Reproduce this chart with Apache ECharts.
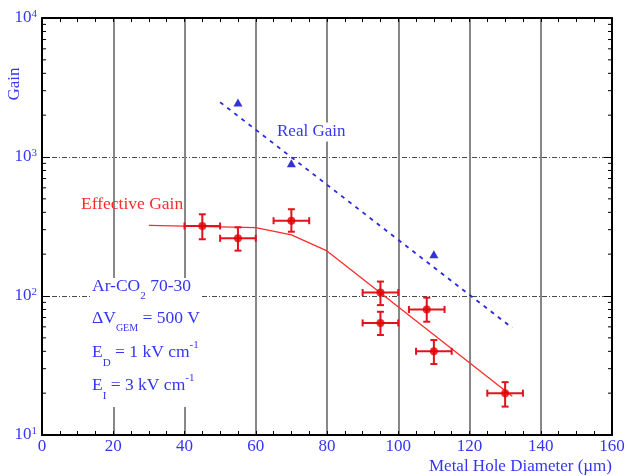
<!DOCTYPE html>
<html>
<head>
<meta charset="utf-8">
<script src="https://cdn.jsdelivr.net/npm/echarts@6/dist/echarts.min.js"></script>
<style>
html,body{margin:0;padding:0;background:#fff;}
#chart{width:628px;height:476px;}
</style>
</head>
<body>
<div id="chart"></div>
<script>
// ---- data ----
var xTicks = [0, 20, 40, 60, 80, 100, 120, 140, 160];
var yDecades = [10, 100, 1000, 10000];
var yMinorMult = [2, 3, 4, 5, 6, 7, 8, 9];

// Effective gain measurements (x: metal hole diameter, y: gain)
var effX     = [45, 55, 70, 95, 95, 108, 110, 130];
var effY     = [319, 260, 348, 106, 64, 80, 40, 20];
var effXLow  = [40, 50, 65, 90, 90, 103, 105, 125];
var effXHigh = [50, 60, 75, 100, 100, 113, 115, 135];
var effYLow  = [256, 212, 290, 86, 52.4, 65.3, 32.4, 16];
var effYHigh = [387, 312, 421, 127, 77, 97.3, 48.2, 24];

// Effective gain model curve
var effFitX = [30, 60, 70, 80, 132];
var effFitY = [322, 310, 275, 211, 19];

// Real gain points and fit
var realX = [55, 70, 110];
var realY = [2470, 902, 200];
var realFitX = [50, 132];
var realFitY = [2480, 59];

// ---- build ----
var BLUE = '#3535f5';
var FONT = 'Liberation Serif, Times New Roman, serif';

var yMinor = [];
for (var i = 0; i < yDecades.length - 1; i++) {
  for (var j = 0; j < yMinorMult.length; j++) yMinor.push([0, yDecades[i] * yMinorMult[j]]);
}

function zip(a, b) { return a.map(function (v, k) { return [v, b[k]]; }); }

var errData = effX.map(function (v, k) {
  return [v, effY[k], effXLow[k], effXHigh[k], effYLow[k], effYHigh[k]];
});

var chart = echarts.init(document.getElementById('chart'), null, {renderer: 'canvas'});

var axisLineStyle = {color: '#000', width: 2};

var option = {
  animation: false,
  backgroundColor: '#fff',
  grid: {left: 42, right: 16, top: 18, bottom: 41, containLabel: false},
  xAxis: [{
    type: 'value', min: xTicks[0], max: xTicks[xTicks.length - 1], interval: 20,
    position: 'bottom',
    axisLine: {show: true, onZero: false, lineStyle: axisLineStyle},
    axisTick: {show: true, inside: true, length: 4, lineStyle: {color: '#000', width: 1}},
    minorTick: {show: true, splitNumber: 4, length: 4, lineStyle: {color: '#000', width: 1}},
    axisLabel: {color: BLUE, fontFamily: FONT, fontSize: 17, margin: 3},
    splitLine: {show: true, showMinLine: false, showMaxLine: false, lineStyle: {color: '#878787', width: 2}}
  }, {
    type: 'value', min: xTicks[0], max: xTicks[xTicks.length - 1], interval: 20,
    position: 'top',
    axisLine: {show: true, onZero: false, lineStyle: axisLineStyle},
    axisTick: {show: true, inside: true, length: 4, lineStyle: {color: '#000', width: 1}},
    minorTick: {show: true, splitNumber: 4, length: 4, lineStyle: {color: '#000', width: 1}},
    axisLabel: {show: false},
    splitLine: {show: false}
  }],
  yAxis: [{
    type: 'log', logBase: 10, min: yDecades[0], max: yDecades[yDecades.length - 1],
    position: 'left',
    axisLine: {show: true, onZero: false, lineStyle: axisLineStyle},
    axisTick: {show: true, inside: true, length: 8, lineStyle: {color: '#000', width: 1}},
    axisLabel: {
      margin: 5,
      formatter: function (v) {
        var n = Math.round(Math.log10(v));
        return '{b|10}{s|' + n + '}';
      },
      rich: {
        b: {color: BLUE, fontFamily: FONT, fontSize: 17, lineHeight: 20},
        s: {color: BLUE, fontFamily: FONT, fontSize: 11, height: 12, verticalAlign: 'top'}
      }
    },
    splitLine: {show: true, showMinLine: false, showMaxLine: false,
      lineStyle: {color: '#4a4a4a', width: 1.2, type: [5, 2, 1, 2]}}
  }, {
    type: 'log', logBase: 10, min: yDecades[0], max: yDecades[yDecades.length - 1],
    position: 'right',
    axisLine: {show: true, onZero: false, lineStyle: axisLineStyle},
    axisTick: {show: true, inside: true, length: 8, lineStyle: {color: '#000', width: 1}},
    axisLabel: {show: false},
    splitLine: {show: false}
  }],
  series: [
    {
      name: 'yMinorTicks', type: 'custom', xAxisIndex: 0, yAxisIndex: 0,
      silent: true, clip: false, z: 5,
      encode: {x: 0, y: 1},
      data: yMinor,
      renderItem: function (params, api) {
        var v = api.value(1);
        var pL = api.coord([xTicks[0], v]);
        var pR = api.coord([xTicks[xTicks.length - 1], v]);
        var st = {stroke: '#000', lineWidth: 1};
        return {type: 'group', children: [
          {type: 'line', shape: {x1: pL[0], y1: pL[1], x2: pL[0] + 4, y2: pL[1]}, style: st},
          {type: 'line', shape: {x1: pR[0] - 4, y1: pR[1], x2: pR[0], y2: pR[1]}, style: st}
        ]};
      }
    },
    {
      name: 'Effective Gain fit', type: 'line', data: zip(effFitX, effFitY),
      showSymbol: false, symbol: 'none', silent: true,
      lineStyle: {color: '#ff2b2b', width: 1.3}, z: 3
    },
    {
      name: 'Real Gain fit', type: 'line', data: zip(realFitX, realFitY),
      showSymbol: false, symbol: 'none', silent: true,
      lineStyle: {color: '#2a2ae0', width: 1.8, type: [4, 5]}, z: 3
    },
    {
      name: 'errors', type: 'custom', silent: true, z: 4,
      encode: {x: 0, y: 1},
      data: errData,
      renderItem: function (params, api) {
        var x = api.value(0), y = api.value(1);
        var pL = api.coord([api.value(2), y]);
        var pR = api.coord([api.value(3), y]);
        var pB = api.coord([x, api.value(4)]);
        var pT = api.coord([x, api.value(5)]);
        var c = 3.5;
        var st = {stroke: '#e3121c', lineWidth: 2};
        return {type: 'group', children: [
          {type: 'line', shape: {x1: pL[0], y1: pL[1], x2: pR[0], y2: pR[1]}, style: st},
          {type: 'line', shape: {x1: pT[0], y1: pT[1], x2: pB[0], y2: pB[1]}, style: st},
          {type: 'line', shape: {x1: pL[0], y1: pL[1] - c, x2: pL[0], y2: pL[1] + c}, style: st},
          {type: 'line', shape: {x1: pR[0], y1: pR[1] - c, x2: pR[0], y2: pR[1] + c}, style: st},
          {type: 'line', shape: {x1: pT[0] - c, y1: pT[1], x2: pT[0] + c, y2: pT[1]}, style: st},
          {type: 'line', shape: {x1: pB[0] - c, y1: pB[1], x2: pB[0] + c, y2: pB[1]}, style: st}
        ]};
      }
    },
    {
      name: 'Effective Gain', type: 'scatter', data: zip(effX, effY),
      symbol: 'circle', symbolSize: 8, silent: true, z: 5,
      itemStyle: {color: '#e00000'}
    },
    {
      name: 'Real Gain', type: 'scatter', data: zip(realX, realY),
      symbol: 'triangle', symbolSize: [9, 8], silent: true, z: 5,
      itemStyle: {color: '#0000d0'}
    }
  ],
  graphic: [
    {type: 'text', x: 15, y: 84, rotation: Math.PI / 2, z: 10,
      style: {text: 'Gain', fill: BLUE, font: '17px ' + FONT, textAlign: 'center', textVerticalAlign: 'middle'}},
    {type: 'text', x: 612, y: 467, z: 10,
      style: {text: 'Metal Hole Diameter (\u00b5m)', fill: BLUE, font: '17px ' + FONT, textAlign: 'right', textVerticalAlign: 'middle'}},
    {type: 'text', x: 277, y: 132, z: 10,
      style: {text: 'Real Gain', fill: BLUE, font: '17px ' + FONT, textAlign: 'left', textVerticalAlign: 'middle',
        backgroundColor: '#fff', padding: [1, 0, 1, 0]}},
    {type: 'text', x: 81, y: 204, z: 10,
      style: {text: 'Effective Gain', fill: '#ff2b2b', font: '17.5px ' + FONT, textAlign: 'left', textVerticalAlign: 'middle'}},
    {type: 'rect', z: 8, shape: {x: 90, y: 278, width: 112, height: 129}, style: {fill: '#fff'}},
    {type: 'text', x: 92, y: 286, z: 10,
      style: {text: 'Ar-CO{sub|2} 70-30', fill: BLUE, font: '17.5px ' + FONT, textAlign: 'left', textVerticalAlign: 'middle', lineHeight: 33,
        rich: {sub: {fill: BLUE, fontFamily: FONT, fontSize: 11, height: 13, verticalAlign: 'bottom'}}}},
    {type: 'text', x: 92, y: 318, z: 10,
      style: {text: '\u0394V{sub|GEM} = 500 V', fill: BLUE, font: '17.5px ' + FONT, textAlign: 'left', textVerticalAlign: 'middle', lineHeight: 33,
        rich: {sub: {fill: BLUE, fontFamily: FONT, fontSize: 10, height: 13, verticalAlign: 'bottom'}}}},
    {type: 'text', x: 92, y: 352, z: 10,
      style: {text: 'E{sub|D} = 1 kV cm{sup|-1}', fill: BLUE, font: '17.5px ' + FONT, textAlign: 'left', textVerticalAlign: 'middle', lineHeight: 33,
        rich: {sub: {fill: BLUE, fontFamily: FONT, fontSize: 11, height: 11, verticalAlign: 'bottom'},
               sup: {fill: BLUE, fontFamily: FONT, fontSize: 11, height: 19, verticalAlign: 'top'}}}},
    {type: 'text', x: 92, y: 385, z: 10,
      style: {text: 'E{sub|I} = 3 kV cm{sup|-1}', fill: BLUE, font: '17.5px ' + FONT, textAlign: 'left', textVerticalAlign: 'middle', lineHeight: 33,
        rich: {sub: {fill: BLUE, fontFamily: FONT, fontSize: 11, height: 11, verticalAlign: 'bottom'},
               sup: {fill: BLUE, fontFamily: FONT, fontSize: 11, height: 19, verticalAlign: 'top'}}}}
  ]
};

chart.setOption(option);
</script>
</body>
</html>
